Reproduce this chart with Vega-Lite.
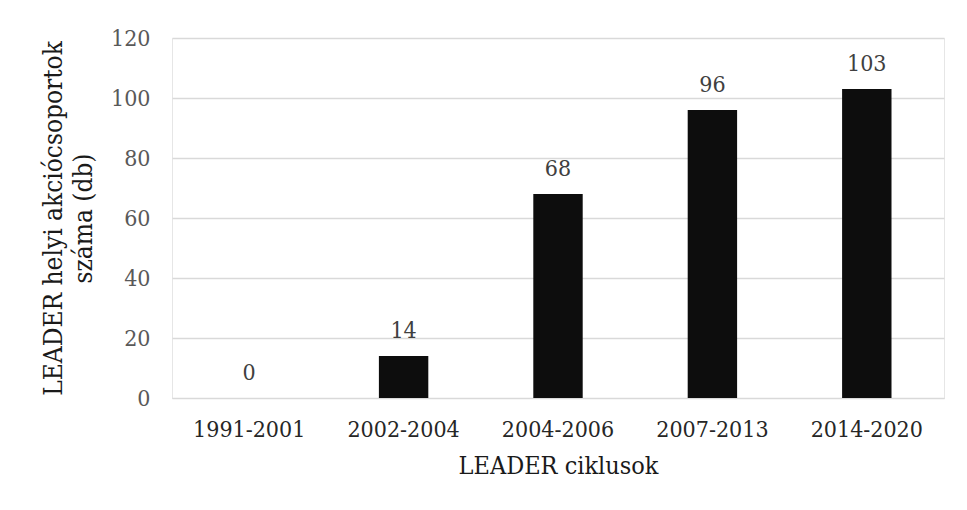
{
  "$schema": "https://vega.github.io/schema/vega-lite/v6.json",
  "autosize": "none",
  "width": 772,
  "height": 360,
  "padding": {"left": 172, "top": 38, "right": 23, "bottom": 112},
  "background": "white",
  "config": {
    "font": "DejaVu Serif Condensed, DejaVu Serif",
    "view": {"stroke": "#e6e6e6", "strokeWidth": 1}
  },
  "data": {
    "values": [
      {"ciklus": "1991-2001", "db": 0},
      {"ciklus": "2002-2004", "db": 14},
      {"ciklus": "2004-2006", "db": 68},
      {"ciklus": "2007-2013", "db": 96},
      {"ciklus": "2014-2020", "db": 103}
    ]
  },
  "encoding": {
    "x": {
      "field": "ciklus",
      "type": "nominal",
      "sort": null,
      "scale": {"paddingInner": 0.68, "paddingOuter": 0.34},
      "axis": {
        "title": "LEADER ciklusok",
        "labelAngle": 0,
        "labelFontSize": 23,
        "labelColor": "#262626",
        "labelPadding": 20,
        "ticks": false,
        "domainColor": "#d9d9d9",
        "titleFontSize": 25,
        "titleFontWeight": "normal",
        "titleColor": "#1a1a1a",
        "titlePadding": 12
      }
    },
    "y": {
      "field": "db",
      "type": "quantitative",
      "scale": {"domain": [0, 120]},
      "axis": {
        "title": ["LEADER helyi akciócsoportok", "száma (db)"],
        "values": [0, 20, 40, 60, 80, 100, 120],
        "labelFontSize": 23,
        "labelColor": "#595959",
        "labelPadding": 22,
        "ticks": false,
        "domain": false,
        "gridColor": "#d9d9d9",
        "gridWidth": 1.5,
        "titleFontSize": 26,
        "titleFontWeight": "normal",
        "titleColor": "#1a1a1a",
        "titleLineHeight": 30,
        "titlePadding": 14
      }
    }
  },
  "layer": [
    {
      "mark": {"type": "bar", "color": "#0d0d0d"}
    },
    {
      "mark": {"type": "text", "baseline": "alphabetic", "dy": -18, "fontSize": 23, "color": "#404040"},
      "encoding": {"text": {"field": "db", "type": "quantitative"}}
    }
  ]
}
